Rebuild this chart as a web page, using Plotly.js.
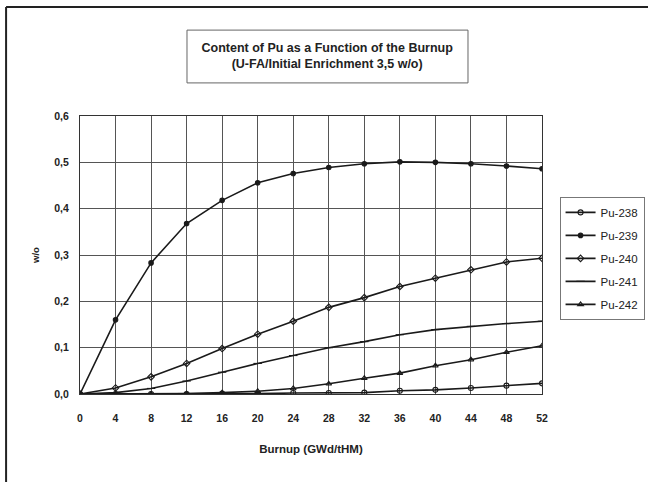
<!DOCTYPE html>
<html>
<head>
<meta charset="utf-8">
<script src="https://cdn.plot.ly/plotly-3.0.1.min.js"></script>
<style>html,body{margin:0;padding:0;background:#fff;overflow:hidden;}</style>
</head>
<body>
<div id="chart" style="width:648px;height:482px;"></div>
<script>
var burnup = [0, 4, 8, 12, 16, 20, 24, 28, 32, 36, 40, 44, 48, 52];
var pu238 = [0, 0.000, 0.000, 0.000, 0.001, 0.001, 0.002, 0.002, 0.003, 0.007, 0.009, 0.013, 0.018, 0.023];
var pu239 = [0, 0.160, 0.283, 0.368, 0.418, 0.456, 0.476, 0.489, 0.497, 0.501, 0.500, 0.497, 0.492, 0.486];
var pu240 = [0, 0.013, 0.037, 0.066, 0.098, 0.129, 0.157, 0.187, 0.208, 0.232, 0.250, 0.268, 0.285, 0.293];
var pu241 = [0, 0.003, 0.012, 0.028, 0.047, 0.066, 0.083, 0.100, 0.113, 0.128, 0.139, 0.146, 0.152, 0.157];
var pu242 = [0, 0.000, 0.000, 0.001, 0.003, 0.006, 0.012, 0.022, 0.034, 0.045, 0.061, 0.074, 0.090, 0.104];
var seriesNames = ["Pu-238", "Pu-239", "Pu-240", "Pu-241", "Pu-242"];
var xTicks = [0, 4, 8, 12, 16, 20, 24, 28, 32, 36, 40, 44, 48, 52];
var yTicks = [0, 0.1, 0.2, 0.3, 0.4, 0.5, 0.6];

var symbols = ["circle-open", "circle", "diamond-open", "line-ew-open", "triangle-up-open"];
var sizes = [5, 4.5, 5, 6, 5];
var ys = [pu238, pu239, pu240, pu241, pu242];
var traces = ys.map(function (y, i) {
  return {
    x: burnup, y: y, name: seriesNames[i], legendgroup: "g" + i,
    type: "scatter", mode: "lines+markers",
    line: {color: "#1a1a1a", width: 1.6},
    marker: {symbol: symbols[i], size: sizes[i], color: "#1a1a1a", line: {color: "#1a1a1a", width: 1.1}}
  };
});

var fontFam = "Liberation Sans, Arial, sans-serif";
var clear = "rgba(0,0,0,0)";
var layout = {
  width: 648, height: 482,
  margin: {l: 80, r: 106, t: 116, b: 88, autoexpand: false},
  paper_bgcolor: "#ffffff", plot_bgcolor: "#ffffff",
  separators: ",.",
  font: {family: fontFam, size: 10, color: "#222"},
  title: {
    text: "Content of Pu as a Function of the Burnup<br>(U-FA/Initial Enrichment 3,5 w/o)",
    font: {family: fontFam, size: 12.5, color: "#222", weight: "bold"},
    xref: "paper", x: 0.535, xanchor: "center",
    yref: "container", y: 0.893, yanchor: "middle"
  },
  xaxis: {
    range: [0, 52], tickvals: xTicks, ticktext: xTicks.map(String),
    showgrid: true, gridcolor: "#555", gridwidth: 1,
    showline: true, linecolor: "#333", linewidth: 1, mirror: true,
    zeroline: false, ticks: "outside", ticklen: 14, tickcolor: clear,
    tickfont: {family: fontFam, size: 10.5, color: "#222", weight: "bold"},
    title: {text: "Burnup (GWd/tHM)", font: {family: fontFam, size: 11.5, color: "#222", weight: "bold"}, standoff: 22}
  },
  yaxis: {
    range: [0, 0.6], tickvals: yTicks, tickformat: ".1f",
    showgrid: true, gridcolor: "#555", gridwidth: 1,
    showline: true, linecolor: "#333", linewidth: 1, mirror: true,
    zeroline: false, ticks: "outside", ticklen: 8, tickcolor: clear,
    tickfont: {family: fontFam, size: 10.5, color: "#222", weight: "bold"},
    title: {text: "w/o", font: {family: fontFam, size: 9.5, color: "#222", weight: "bold"}, standoff: 12}
  },
  legend: {
    x: 1.038, xanchor: "left", y: 0.709, yanchor: "top",
    bordercolor: "#777", borderwidth: 1, bgcolor: "#fff",
    font: {family: fontFam, size: 11.5, color: "#222"},
    itemwidth: 30, tracegroupgap: 4
  },
  shapes: [
    {type: "line", xref: "paper", yref: "paper", x0: -0.160, x1: 1.25, y0: 1.392, y1: 1.392, line: {color: "#222", width: 2}},
    {type: "line", xref: "paper", yref: "paper", x0: -0.160, x1: -0.160, y0: 1.392, y1: -0.35, line: {color: "#222", width: 2}},
    {type: "rect", xref: "paper", yref: "paper", x0: 0.2316, x1: 0.8398, y0: 1.119, y1: 1.309, line: {color: "#666", width: 1}}
  ]
};

Plotly.newPlot("chart", traces, layout, {displayModeBar: false, staticPlot: true});
</script>
</body>
</html>
